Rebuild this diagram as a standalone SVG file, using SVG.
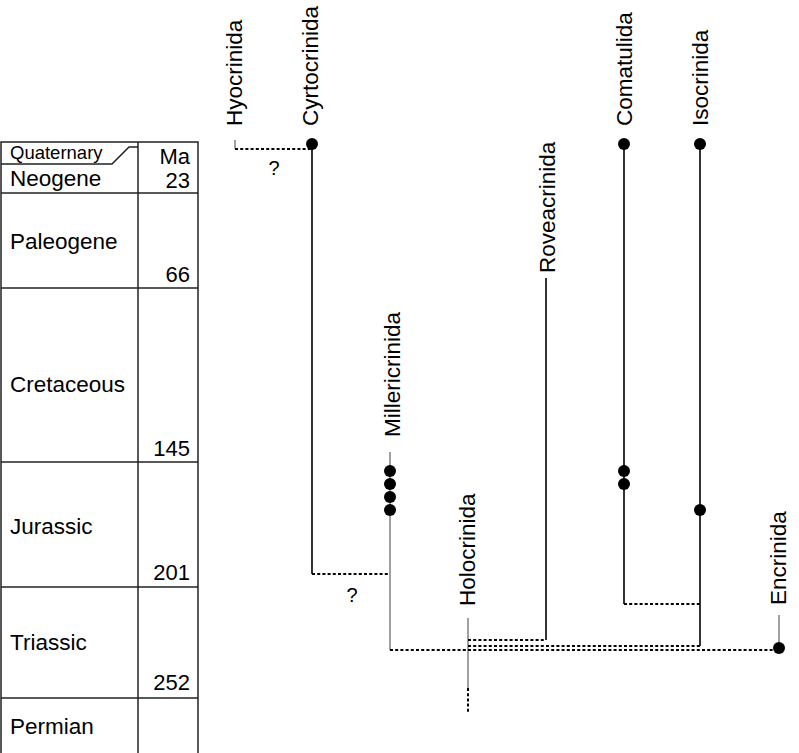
<svg xmlns="http://www.w3.org/2000/svg" width="799" height="753" viewBox="0 0 799 753">
<style>
text{font-family:"Liberation Sans",Arial,sans-serif;fill:#000}
.lab{font-size:22.5px}
.num{font-size:22px;text-anchor:end}
.q{font-size:18.5px}
.tl{stroke:#222;stroke-width:1.5;fill:none}
.solid{stroke:#000;stroke-width:1.6;fill:none}
.gray{stroke:#808080;stroke-width:1.5;fill:none}
.dot{stroke:#000;stroke-width:2;stroke-dasharray:3 2.2;fill:none}
.node{fill:#000}
</style>
<g id="timescale">
<rect class="tl" x="1" y="142" width="197" height="620"/>
<line class="tl" x1="138" y1="142" x2="138" y2="753"/>
<polyline class="tl" points="1,164 112,164 129,147 138,147"/>
<line class="tl" x1="1" y1="193" x2="198" y2="193"/>
<line class="tl" x1="1" y1="288" x2="198" y2="288"/>
<line class="tl" x1="1" y1="462" x2="198" y2="462"/>
<line class="tl" x1="1" y1="587" x2="198" y2="587"/>
<line class="tl" x1="1" y1="698" x2="198" y2="698"/>
<text class="q" x="10" y="159">Quaternary</text>
<text class="lab" x="10" y="186">Neogene</text>
<text class="lab" x="10" y="249">Paleogene</text>
<text class="lab" x="10" y="392">Cretaceous</text>
<text class="lab" x="10" y="534">Jurassic</text>
<text class="lab" x="10" y="650">Triassic</text>
<text class="lab" x="10" y="734">Permian</text>
<text class="num" x="190" y="164">Ma</text>
<text class="num" x="190" y="188">23</text>
<text class="num" x="190" y="282">66</text>
<text class="num" x="190" y="456">145</text>
<text class="num" x="190" y="580">201</text>
<text class="num" x="190" y="690">252</text>
</g>
<g id="connectors">
<line class="solid" x1="312" y1="144" x2="312" y2="574"/>
<line class="solid" x1="546" y1="278" x2="546" y2="640"/>
<line class="solid" x1="624" y1="144" x2="624" y2="604"/>
<line class="solid" x1="700" y1="144" x2="700" y2="646"/>
<line class="gray" x1="390" y1="452" x2="390" y2="650"/>
<line class="gray" x1="468" y1="618" x2="468" y2="688"/>
<line class="gray" x1="779" y1="615" x2="779" y2="648"/>
<line class="gray" x1="235" y1="140" x2="235" y2="149"/>
<line class="dot" x1="235" y1="149" x2="312" y2="149"/>
<line class="dot" x1="312" y1="574" x2="390" y2="574"/>
<line class="dot" x1="468" y1="640" x2="546" y2="640"/>
<line class="dot" x1="624" y1="604" x2="700" y2="604"/>
<line class="dot" x1="468" y1="646" x2="700" y2="646"/>
<line class="dot" x1="390" y1="650" x2="779" y2="650"/>
<line class="dot" x1="468" y1="688" x2="468" y2="712"/>
<text class="lab" x="274" y="175" text-anchor="middle" style="font-size:20px">?</text>
<text class="lab" x="352" y="602" text-anchor="middle" style="font-size:20px">?</text>
</g>
<g id="Hyocrinida"><text class="lab" transform="translate(242,126) rotate(-90)">Hyocrinida</text></g>
<g id="Cyrtocrinida"><text class="lab" transform="translate(318,126) rotate(-90)">Cyrtocrinida</text><circle class="node" cx="312" cy="144" r="6"/></g>
<g id="Millericrinida"><text class="lab" transform="translate(400,437) rotate(-90)">Millericrinida</text>
<circle class="node" cx="390" cy="471" r="6"/><circle class="node" cx="390" cy="484" r="6"/><circle class="node" cx="390" cy="497" r="6"/><circle class="node" cx="390" cy="510" r="6"/></g>
<g id="Holocrinida"><text class="lab" transform="translate(475,606) rotate(-90)">Holocrinida</text></g>
<g id="Roveacrinida"><text class="lab" transform="translate(555,273) rotate(-90)">Roveacrinida</text></g>
<g id="Comatulida"><text class="lab" transform="translate(632,126) rotate(-90)">Comatulida</text>
<circle class="node" cx="624" cy="144" r="6"/><circle class="node" cx="624" cy="471" r="6"/><circle class="node" cx="624" cy="484" r="6"/></g>
<g id="Isocrinida"><text class="lab" transform="translate(708,126) rotate(-90)">Isocrinida</text>
<circle class="node" cx="700" cy="144" r="6"/><circle class="node" cx="700" cy="510" r="6"/></g>
<g id="Encrinida"><text class="lab" transform="translate(786,605) rotate(-90)">Encrinida</text><circle class="node" cx="779" cy="648" r="6"/></g>
</svg>
